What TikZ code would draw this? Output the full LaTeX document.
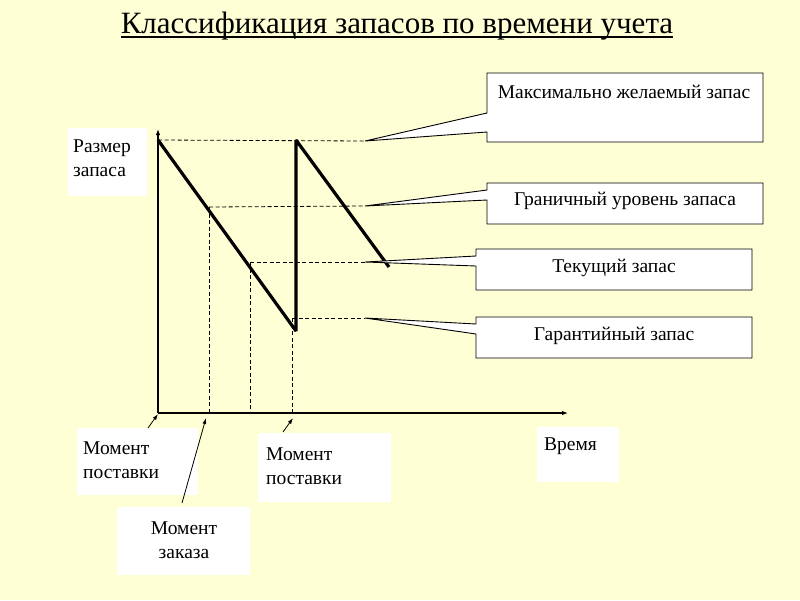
\documentclass[tikz,border=0pt]{standalone}
\usepackage{fontspec}
\setmainfont{Liberation Serif}
\usetikzlibrary{arrows.meta}
\definecolor{bgyellow}{RGB}{255,255,214}
\begin{document}
\begin{tikzpicture}[x=1pt,y=-1pt,
  axis/.style={line width=1.1pt,-{Latex[length=6pt,width=4.5pt]}},
  saw/.style={line width=3.2pt,line join=bevel},
  guide/.style={line width=0.8pt,dash pattern=on 4pt off 2.5pt},
  ptr/.style={line width=0.8pt,-{Latex[length=6pt,width=4pt]}},
  txt/.style={inner sep=0pt,font=\fontsize{19.5}{24}\selectfont},
  whitebox/.style={fill=white,inner sep=0pt,outer sep=0pt,anchor=north west},
  boxgeo/.style={inner sep=0pt,outer sep=0pt,anchor=north west},
  callout/.style={fill=white,draw=black,line width=0.9pt,line join=miter}
]
\fill[bgyellow] (0,0) rectangle (800,600);
\useasboundingbox (0,0) rectangle (800,600);

% title
\node[inner sep=0pt,anchor=base,font=\fontsize{31}{34}\selectfont] (title) at (397,33) {Классификация запасов по времени учета};
\draw[line width=1.3pt] ([yshift=-4pt]title.base west) -- ([yshift=-4pt]title.base east);

% white label boxes
\node[whitebox,minimum width=79,minimum height=68] (sizebox) at (68,128) {};
\node[whitebox,minimum width=121,minimum height=67] (del1box) at (77,428) {};
\node[whitebox,minimum width=133,minimum height=68] (orderbox) at (117,507) {};
\node[whitebox,minimum width=133,minimum height=69] (del2box) at (258,433) {};
\node[whitebox,minimum width=82,minimum height=55] (timebox) at (537,427) {};

\node[txt,anchor=west,align=left] (sizetxt) at (73,158) {Размер\\запаса};
\node[txt,anchor=west,align=left] (del1txt) at (83,460) {Момент\\поставки};
\node[txt,anchor=center,align=center] (ordertxt) at (184,540) {Момент\\заказа};
\node[txt,anchor=west,align=left] (del2txt) at (266,466) {Момент\\поставки};
\node[txt,anchor=west] (timetxt) at (544,446) {Время};

% key points
\coordinate (O) at (158,413);
\coordinate (ytop) at (158,129);
\coordinate (xend) at (568,413);
\coordinate (s1) at (158,140);
\coordinate (s2) at (296,331);
\coordinate (s3) at (296,140);
\coordinate (s4) at (389,267);
\coordinate (pB) at (209,207);
\coordinate (pC) at (250,262);
\coordinate (pD) at (292,318);
\coordinate (tipA) at (365,141);
\coordinate (tipB) at (365,206);
\coordinate (tipC) at (365,262);
\coordinate (tipD) at (365,318);

% dashed guides
\draw[guide] (s1) -- (tipA);
\draw[guide] (pB) -- (tipB);
\draw[guide] (pC) -- (tipC);
\draw[guide] (pD) -- (tipD);
\draw[guide] (pB) -- (pB |- O);
\draw[guide] (pC) -- (pC |- O);
\draw[guide] (pD) -- (pD |- O);

% axes
\draw[axis] (O) -- (ytop);
\draw[axis] (O) -- (xend);

% sawtooth
\draw[saw] (s1) -- (s2) -- (s3) -- (s4);

% pointer arrows
\coordinate (a1) at (148,428);
\coordinate (a1h) at (158,414);
\coordinate (a2) at (182,503);
\coordinate (a2h) at (206,418);
\coordinate (a3) at (283,432);
\coordinate (a3h) at (293,418);
\draw[ptr] (a1) -- (a1h);
\draw[ptr] (a2) -- (a2h);
\draw[ptr] (a3) -- (a3h);

% callout boxes
\node[boxgeo,minimum width=276,minimum height=69] (maxbox) at (487,73) {};
\node[boxgeo,minimum width=276,minimum height=41] (grbox) at (487,183) {};
\node[boxgeo,minimum width=276,minimum height=41] (curbox) at (476,249) {};
\node[boxgeo,minimum width=276,minimum height=41] (garbox) at (476,317) {};

\draw[callout] (maxbox.north west) -- (maxbox.north east) -- (maxbox.south east) -- (maxbox.south west)
  -- (maxbox.west |- 0,132) -- (tipA) -- (maxbox.west |- 0,113) -- cycle;
\draw[callout] (grbox.north west) -- (grbox.north east) -- (grbox.south east) -- (grbox.south west)
  -- (grbox.west |- 0,200) -- (tipB) -- (grbox.west |- 0,190) -- cycle;
\draw[callout] (curbox.north west) -- (curbox.north east) -- (curbox.south east) -- (curbox.south west)
  -- (curbox.west |- 0,266) -- (tipC) -- (curbox.west |- 0,256) -- cycle;
\draw[callout] (garbox.north west) -- (garbox.north east) -- (garbox.south east) -- (garbox.south west)
  -- (garbox.west |- 0,334) -- (tipD) -- (garbox.west |- 0,324) -- cycle;

\node[txt] (maxtxt) at (624,92) {Максимально желаемый запас};
\node[txt] (grtxt) at (625,201) {Граничный уровень запаса};
\node[txt] (curtxt) at (614,268) {Текущий запас};
\node[txt] (gartxt) at (614,336) {Гарантийный запас};
\end{tikzpicture}
\end{document}
